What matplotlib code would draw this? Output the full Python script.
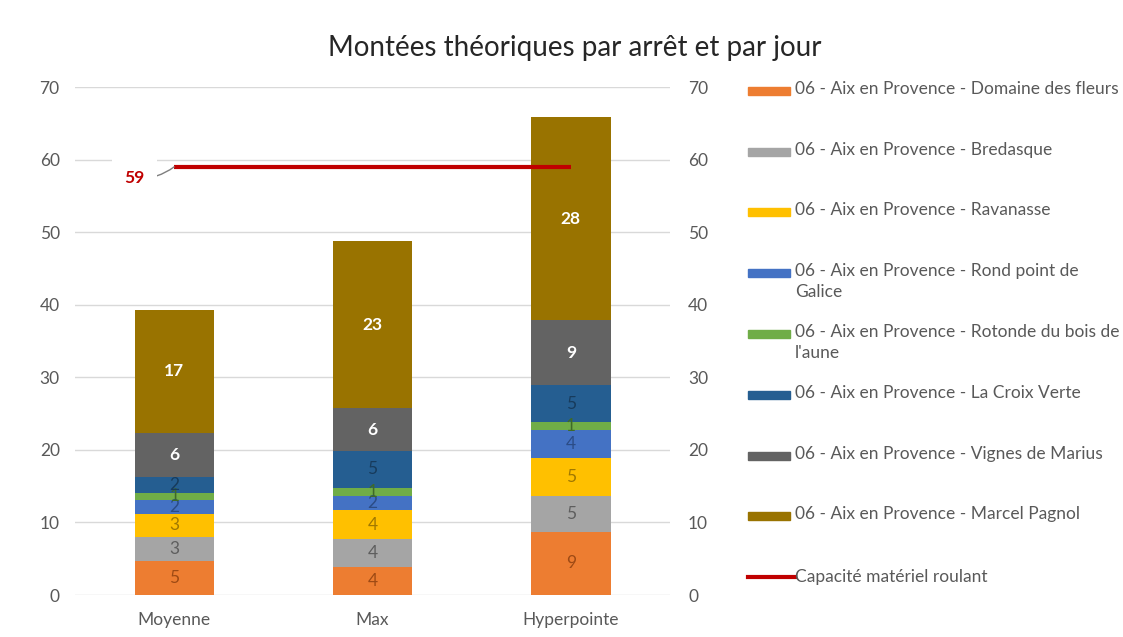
import matplotlib
matplotlib.use("Agg")
import matplotlib.pyplot as plt
from matplotlib.patches import Rectangle
from matplotlib.lines import Line2D
import numpy as np

plt.rcParams['font.family'] = ['Lato', 'DejaVu Sans']

categories = ['Moyenne', 'Max', 'Hyperpointe']
stops = [
    '06 - Aix en Provence - Domaine des fleurs',
    '06 - Aix en Provence - Bredasque',
    '06 - Aix en Provence - Ravanasse',
    '06 - Aix en Provence - Rond point de\nGalice',
    '06 - Aix en Provence - Rotonde du bois de\nl\'aune',
    '06 - Aix en Provence - La Croix Verte',
    '06 - Aix en Provence - Vignes de Marius',
    '06 - Aix en Provence - Marcel Pagnol',
]
# montées par arrêt (Moyenne, Max, Hyperpointe)
domaine_fleurs = [4.7, 3.8, 8.7]
bredasque = [3.3, 3.9, 5.0]
ravanasse = [3.2, 4.0, 5.2]
rond_point = [1.9, 2.0, 3.9]
rotonde = [1.0, 1.1, 1.0]
croix_verte = [2.2, 5.1, 5.1]
vignes_marius = [6.0, 5.8, 9.0]
marcel_pagnol = [17.0, 23.1, 27.9]
capacite = 59
capacite_label = 'Capacité matériel roulant'

series = [domaine_fleurs, bredasque, ravanasse, rond_point, rotonde,
          croix_verte, vignes_marius, marcel_pagnol]
colors = ['#ED7D31', '#A5A5A5', '#FFC000', '#4472C4', '#70AD47',
          '#255E91', '#636363', '#997300']
label_colors = ['#9E4A14', '#5E5E5E', '#A07800', '#2B4C86', '#3E6A28',
                '#173B5C', 'white', 'white']
label_bold = [False] * 6 + [True, True]
text_grey = '#595959'
grid_grey = '#D9D9D9'

fig = plt.figure(figsize=(11.23, 6.37), dpi=100)
ax = fig.add_axes([75 / 1123, 1 - 595 / 637, 595 / 1123, 508 / 637])

x = np.arange(len(categories))
bottom = np.zeros(len(categories))
for vals, col, lc, bold in zip(series, colors, label_colors, label_bold):
    vals = np.array(vals)
    bars = ax.bar(x, vals, width=0.4, bottom=bottom, color=col, zorder=2)
    ax.bar_label(bars, labels=[f'{v:.0f}' for v in vals], label_type='center',
                 color=lc, fontsize=12.5, fontweight='bold' if bold else 'normal')
    bottom += vals

ax.plot([x[0], x[-1]], [capacite, capacite], color='#C00000', lw=3, zorder=3,
        solid_capstyle='butt')
ax.annotate(f'{capacite}', xy=(x[0], capacite), xytext=(-0.2, 57.5),
            color='#C00000', fontsize=12.5, fontweight='bold', ha='center', va='center',
            bbox=dict(boxstyle='square,pad=0.7', fc='white', ec='none'),
            arrowprops=dict(arrowstyle='-', color='#7F7F7F', lw=1,
                            connectionstyle='arc3,rad=0.2', shrinkA=0, shrinkB=0),
            zorder=4)

ax.set_xlim(-0.5, 2.5)
ax.set_ylim(0, 70)
ax.set_yticks(range(0, 71, 10))
ax.set_xticks(x)
ax.set_xticklabels(categories)
ax.yaxis.grid(True, color=grid_grey, lw=1, zorder=0)
ax.set_axisbelow(True)
for s in ax.spines.values():
    s.set_visible(False)
ax.tick_params(axis='both', length=0, colors=text_grey, labelsize=12.5)
ax.tick_params(axis='y', pad=11)
ax.tick_params(axis='x', pad=12)

ax2 = ax.twinx()
ax2.set_ylim(0, 70)
ax2.set_yticks(range(0, 71, 10))
for s in ax2.spines.values():
    s.set_visible(False)
ax2.tick_params(axis='y', length=0, colors=text_grey, labelsize=12.5, pad=13)

fig.text(575 / 1123, 1 - 48 / 637, 'Montées théoriques par arrêt et par jour',
         ha='center', va='center', fontsize=20, color='#262626')

# légende à droite
W, H = 1123, 637
row_y = [91, 152, 212, 273, 334, 395, 456, 516, 577]
for i, (name, col) in enumerate(zip(stops, colors)):
    yc = row_y[i]
    fig.patches.append(Rectangle((748 / W, 1 - (yc + 4) / H), 42 / W, 8 / H,
                                 transform=fig.transFigure, color=col, figure=fig))
    fig.text(795 / W, 1 - (yc - 10) / H, name, ha='left', va='top', fontsize=12.5,
             color=text_grey, linespacing=1.35)
yc = row_y[-1]
fig.lines.append(Line2D([748 / W, 795 / W], [1 - yc / H, 1 - yc / H], color='#C00000',
                        lw=3, transform=fig.transFigure, figure=fig))
fig.text(795 / W, 1 - yc / H, capacite_label, ha='left', va='center', fontsize=12.5,
         color=text_grey)

fig.savefig('out.png', dpi=100)
